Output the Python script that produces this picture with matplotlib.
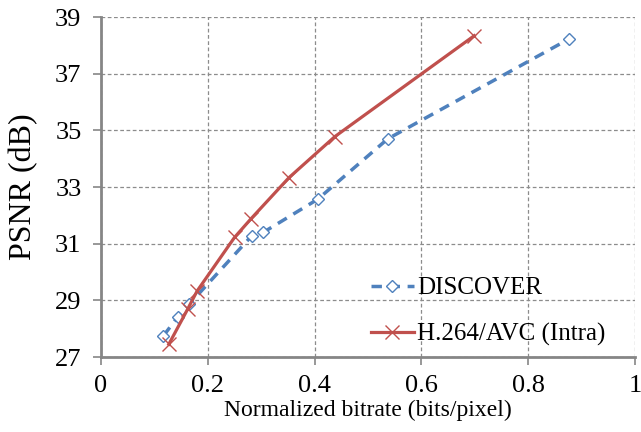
import matplotlib
matplotlib.use("Agg")
import matplotlib.pyplot as plt

discover_x = [0.117, 0.144, 0.165, 0.282, 0.304, 0.406, 0.537, 0.876]
discover_y = [27.75, 28.42, 28.86, 31.27, 31.40, 32.57, 34.70, 38.22]
h264_x = [0.127, 0.162, 0.180, 0.250, 0.280, 0.352, 0.438, 0.699]
h264_y = [27.45, 28.68, 29.33, 31.22, 31.86, 33.33, 34.78, 38.34]
xticks = [0, 0.2, 0.4, 0.6, 0.8, 1]
xticklabels = ["0", "0.2", "0.4", "0.6", "0.8", "1"]
yticks = [27, 29, 31, 33, 35, 37, 39]

plt.rcParams['font.family'] = ['Liberation Serif', 'DejaVu Serif']

fig = plt.figure(figsize=(6.41, 4.32), dpi=100)
ax = fig.add_axes([101/641, 75/432, 534/641, 340/432])

ax.plot(discover_x, discover_y, color='#4F81BD', lw=2.5, ls=(0, (3, 2.2)),
        marker='D', markersize=6.5, markerfacecolor='white', markeredgecolor='#4F81BD',
        markeredgewidth=1.0, label='DISCOVER', zorder=3)
ax.plot(h264_x, h264_y, color='#C0504D', lw=2.3, ls='-',
        marker='x', markersize=10, markeredgecolor='#C0504D', markeredgewidth=1.0,
        label='H.264/AVC (Intra)', zorder=3)

ax.set_xlim(0, 1)
ax.set_ylim(27, 39)
ax.set_xticks(xticks)
ax.set_xticklabels(xticklabels)
ax.set_yticks(yticks)
ax.tick_params(labelsize=19, color='#868686', length=6, width=1.2, direction='out')
ax.tick_params(axis='x', pad=7)
ax.tick_params(axis='y', pad=8)
ax.grid(True, color='#8c8c8c', ls=(0, (3, 2)), lw=0.9)
for s in ['top', 'right']:
    ax.spines[s].set_visible(False)
for s in ['left', 'bottom']:
    ax.spines[s].set_color('#868686')
    ax.spines[s].set_linewidth(2)

ax.set_xlabel('Normalized bitrate (bits/pixel)', fontsize=17)
ax.xaxis.set_label_coords(0.5, -0.125)
ax.set_ylabel('PSNR (dB)', fontsize=23)
ax.yaxis.set_label_coords(-0.118, 0.5)

fig.legend(*ax.get_legend_handles_labels(), loc='upper left',
           bbox_to_anchor=(371/641, 1 - 277/432), frameon=False, fontsize=18,
           borderpad=0, borderaxespad=0, handlelength=1.7, handletextpad=0.15,
           labelspacing=0.95)

fig.savefig('out.png', dpi=100)
